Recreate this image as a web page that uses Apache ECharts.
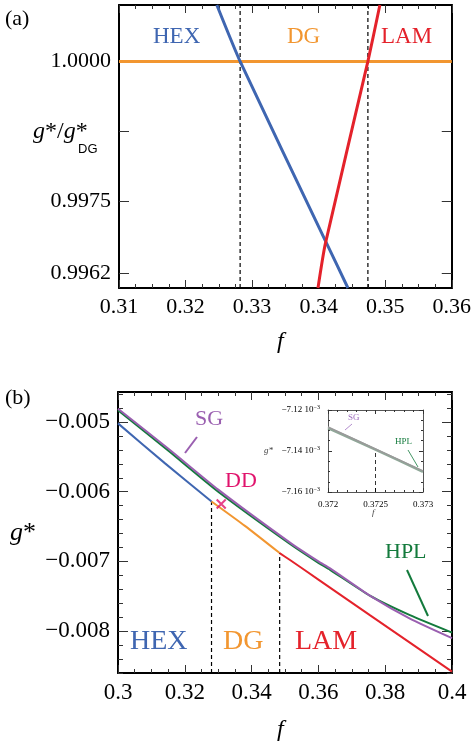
<!DOCTYPE html>
<html>
<head>
<meta charset="utf-8">
<title>g* vs f</title>
<style>html,body{margin:0;padding:0;background:#fff}#chart{width:474px;height:748px}</style>
</head>
<body>
<div id="chart"></div>
<script src="https://cdn.jsdelivr.net/npm/echarts@6/dist/echarts.min.js"></script>
<script>
// ---- panel (a): g*/g*_DG ----
var aHexF = [0.3247, 0.3282, 0.3410, 0.3444];
var aHexG = [1.00101, 1.0000, 0.99679, 0.99594];
var aLamF = [0.3399, 0.3410, 0.3474, 0.3492];
var aLamG = [0.99594, 0.99673, 1.0000, 1.00101];
var aDgF = [0.31, 0.36];
var aDgG = [1.0, 1.0];
var aBounds = [0.3282, 0.3474];
var aYLabels = [0.9962, 0.9975, 1.0];
var aYTicks = [0.9962, 0.9975, 0.99875, 1.0];

// ---- panel (b): g* ----
var bHexF = [0.300, 0.314, 0.328];
var bHexG = [-0.00502, -0.00559, -0.00614];
var bDgF = [0.328, 0.338, 0.3484];
var bDgG = [-0.00614, -0.00649, -0.00688];
var bLamF = [0.3484, 0.3515, 0.360, 0.3754, 0.390, 0.400];
var bLamG = [-0.00688, -0.00698, -0.00726, -0.00777, -0.00825, -0.00858];
var bCurveF = [0.300, 0.315, 0.330, 0.3515, 0.360, 0.3635, 0.3754, 0.3874, 0.400];
var bSgG = [-0.00481, -0.00538, -0.00597, -0.00673, -0.00700, -0.00710, -0.00749, -0.00782, -0.00810];
var bHplG = [-0.00483, -0.00541, -0.00600, -0.00675, -0.00702, -0.00712, -0.00749, -0.00777, -0.00802];
var bDD = [0.3309, -0.006176];
var bBoundF = [0.328, 0.3484];
var bBoundG = [-0.00614, -0.00688];
var bYLabels = [-0.008, -0.007, -0.006, -0.005];

// ---- inset: g* (10^-3) near 0.3725 ----
var iF = [0.372, 0.3725, 0.373];
var iSgG = [-7.1283, -7.1390, -7.1497];
var iHplG = [-7.1288, -7.1393, -7.1502];
var iBoundF = 0.3725;
var iYLabels = [-7.16, -7.14, -7.12];

var C = {hex: '#3f66b1', dg: '#f29630', lam: '#e4222b', sg: '#9a5fb0', hpl: '#137a3c', dd: '#e0136c'};
var serif = 'Liberation Serif';

function pts(xs, ys) { return xs.map(function (x, i) { return [x, ys[i]]; }); }
function range(a, b, s) { var r = []; for (var v = a; v <= b + s / 2; v += s) r.push(+v.toFixed(6)); return r; }
function minus(s) { return s.replace('-', '\u2212'); }

var xAxes = [], yAxes = [];
function addAxes(list, grid, pos, min, max, labels, majors, minors, fmt, size, len, lw) {
  function base() {
    return {type: 'value', gridIndex: grid, position: pos, min: min, max: max,
      splitLine: {show: false}, axisLine: {show: true, onZero: false, lineStyle: {color: lw < 2 ? '#555' : '#000', width: lw}}};
  }
  list.push(Object.assign(base(), {
    axisTick: {show: true, inside: true, length: len, customValues: majors, lineStyle: {color: '#333', width: 1}},
    axisLabel: {show: !!labels, customValues: labels || majors, formatter: fmt, fontFamily: serif, fontSize: size, color: '#000', margin: 8,
      rich: {s: {fontFamily: serif, fontSize: 9}, u: {fontFamily: serif, fontSize: 6, verticalAlign: 'top', padding: [0, 0, 6, 0]}}}
  }));
  if (minors) list.push(Object.assign(base(), {
    axisLine: {show: false},
    axisTick: {show: true, inside: true, length: len / 2, customValues: minors, lineStyle: {color: '#333', width: 1}},
    axisLabel: {show: false}
  }));
}
var fmtX = function (v) { return String(+v.toFixed(4)); };
var fmtI = function (v) { return minus(v.toFixed(2)) + ' {s|10}{u|\u22123}'; };
addAxes(xAxes, 0, 'bottom', 0.31, 0.36, range(0.31, 0.36, 0.01), range(0.31, 0.36, 0.01), range(0.31, 0.36, 0.0025), fmtX, 22, 8, 2);
addAxes(xAxes, 0, 'top', 0.31, 0.36, null, range(0.31, 0.36, 0.01), range(0.31, 0.36, 0.0025), null, 22, 8, 2);
addAxes(yAxes, 0, 'left', 0.99594, 1.00101, aYLabels, aYTicks, null, function (v) { return v.toFixed(4); }, 22, 10, 2);
addAxes(yAxes, 0, 'right', 0.99594, 1.00101, null, aYTicks, null, null, 22, 10, 2);
addAxes(xAxes, 1, 'bottom', 0.3, 0.4, range(0.3, 0.4, 0.02), range(0.3, 0.4, 0.02), range(0.3, 0.4, 0.005), fmtX, 23, 8, 2);
addAxes(xAxes, 1, 'top', 0.3, 0.4, null, range(0.3, 0.4, 0.02), range(0.3, 0.4, 0.005), null, 23, 8, 2);
addAxes(yAxes, 1, 'left', -0.0086, -0.00457, bYLabels, bYLabels, range(-0.0086, -0.0046, 0.0002), function (v) { return minus(v.toFixed(3)); }, 23, 10, 2);
addAxes(yAxes, 1, 'right', -0.0086, -0.00457, null, bYLabels, range(-0.0086, -0.0046, 0.0002), null, 23, 10, 2);
addAxes(xAxes, 2, 'bottom', 0.372, 0.373, iF, iF, range(0.372, 0.373, 0.0001), fmtX, 9, 4, 1);
addAxes(xAxes, 2, 'top', 0.372, 0.373, null, iF, range(0.372, 0.373, 0.0001), null, 9, 4, 1);
addAxes(yAxes, 2, 'left', -7.16, -7.12, iYLabels, iYLabels, range(-7.16, -7.12, 0.005), fmtI, 9, 4, 1);
addAxes(yAxes, 2, 'right', -7.16, -7.12, null, iYLabels, range(-7.16, -7.12, 0.005), null, 9, 4, 1);

function xi(g) { for (var i = 0; i < xAxes.length; i++) if (xAxes[i].gridIndex === g) return i; }
function yi(g) { for (var i = 0; i < yAxes.length; i++) if (yAxes[i].gridIndex === g) return i; }

function line(g, data, color, w, z, dashed) {
  return {type: 'line', xAxisIndex: xi(g), yAxisIndex: yi(g), data: data, showSymbol: false, smooth: dashed ? false : 0.2,
    silent: true, z: z || 2, lineStyle: {color: color, width: w, type: dashed ? [4, 3] : 'solid'}};
}

var series = [
  line(0, pts([aBounds[0], aBounds[0]], [0.99594, 1.00101]), '#000', 1.2, 1, true),
  line(0, pts([aBounds[1], aBounds[1]], [0.99594, 1.00101]), '#000', 1.2, 1, true),
  line(0, pts(aDgF, aDgG), C.dg, 3),
  line(0, pts(aHexF, aHexG), C.hex, 3),
  line(0, pts(aLamF, aLamG), C.lam, 3),

  line(1, pts([bBoundF[0], bBoundF[0]], [-0.0086, bBoundG[0]]), '#000', 1.2, 1, true),
  line(1, pts([bBoundF[1], bBoundF[1]], [-0.0086, bBoundG[1]]), '#000', 1.2, 1, true),
  line(1, pts(bCurveF, bHplG), C.hpl, 2),
  line(1, pts(bCurveF, bSgG), C.sg, 2),
  line(1, pts(bHexF, bHexG), C.hex, 2),
  line(1, pts(bDgF, bDgG), C.dg, 2),
  line(1, pts(bLamF, bLamG), C.lam, 2),
  {type: 'scatter', xAxisIndex: xi(1), yAxisIndex: yi(1), data: [bDD], symbol: 'path://M0,0L10,10M10,0L0,10',
    symbolSize: 9, itemStyle: {color: 'none', borderColor: C.dd, borderWidth: 2}, z: 5},

  line(2, pts([iBoundF, iBoundF], [-7.16, iSgG[1]]), '#000', 0.8, 1, true),
  line(2, pts(iF, iHplG), '#8fa898', 2.5),
  line(2, pts(iF, iSgG), '#9a9a9a', 1.5)
];

function txt(x, y, s, color, size, extra) {
  return {type: 'text', left: x, top: y, style: Object.assign({text: s, fill: color, fontFamily: serif, fontSize: size}, extra || {})};
}
function seg(x1, y1, x2, y2, color, w) {
  return {type: 'line', shape: {x1: x1, y1: y1, x2: x2, y2: y2}, style: {stroke: color, lineWidth: w}};
}

var graphic = [
  txt(5, 8, '(a)', '#000', 22),
  txt(5, 387, '(b)', '#000', 22),
  txt(153, 25, 'HEX', C.hex, 23),
  txt(287, 25, 'DG', C.dg, 23),
  txt(381, 25, 'LAM', C.lam, 23),
  {type: 'text', left: 33, top: 120, style: {text: '{i|g}{n|*/}{i|g}{n|*}', rich: {
    i: {fontFamily: serif, fontStyle: 'italic', fontSize: 24}, n: {fontFamily: serif, fontSize: 24}}}},
  txt(78, 143, 'DG', '#000', 13, {fontFamily: 'Liberation Sans'}),
  txt(277, 330, 'f', '#000', 24, {fontStyle: 'italic'}),

  txt(130, 628, 'HEX', C.hex, 28),
  txt(223, 628, 'DG', C.dg, 28),
  txt(295, 628, 'LAM', C.lam, 28),
  txt(195, 408, 'SG', C.sg, 22),
  seg(185, 453, 197, 437, C.sg, 2),
  txt(225, 470, 'DD', C.dd, 22),
  txt(385, 541, 'HPL', C.hpl, 22),
  seg(407, 570, 428, 616, C.hpl, 2),
  {type: 'text', left: 10, top: 520, style: {text: '{i|g}{n|*}', rich: {
    i: {fontFamily: serif, fontStyle: 'italic', fontSize: 26}, n: {fontFamily: serif, fontSize: 26}}}},
  txt(277, 718, 'f', '#000', 24, {fontStyle: 'italic'}),

  txt(264, 446, 'g*', '#444', 9, {fontStyle: 'italic'}),
  txt(348, 413, 'SG', '#a070c0', 9),
  seg(345, 430, 352, 424, '#a070c0', 0.8),
  txt(395, 437, 'HPL', C.hpl, 9),
  seg(408, 450, 418, 467, C.hpl, 0.8),
  txt(372, 508, 'f', '#444', 9, {fontStyle: 'italic'})
];

var chart = echarts.init(document.getElementById('chart'), null, {renderer: 'canvas'});
chart.setOption({
  animation: false,
  backgroundColor: '#fff',
  textStyle: {fontFamily: serif},
  grid: [
    {left: 119, top: 5, width: 333, height: 283},
    {left: 118, top: 392, width: 334, height: 281},
    {left: 328, top: 410, width: 95, height: 82}
  ],
  xAxis: xAxes,
  yAxis: yAxes,
  series: series,
  graphic: graphic
});
</script>
</body>
</html>
